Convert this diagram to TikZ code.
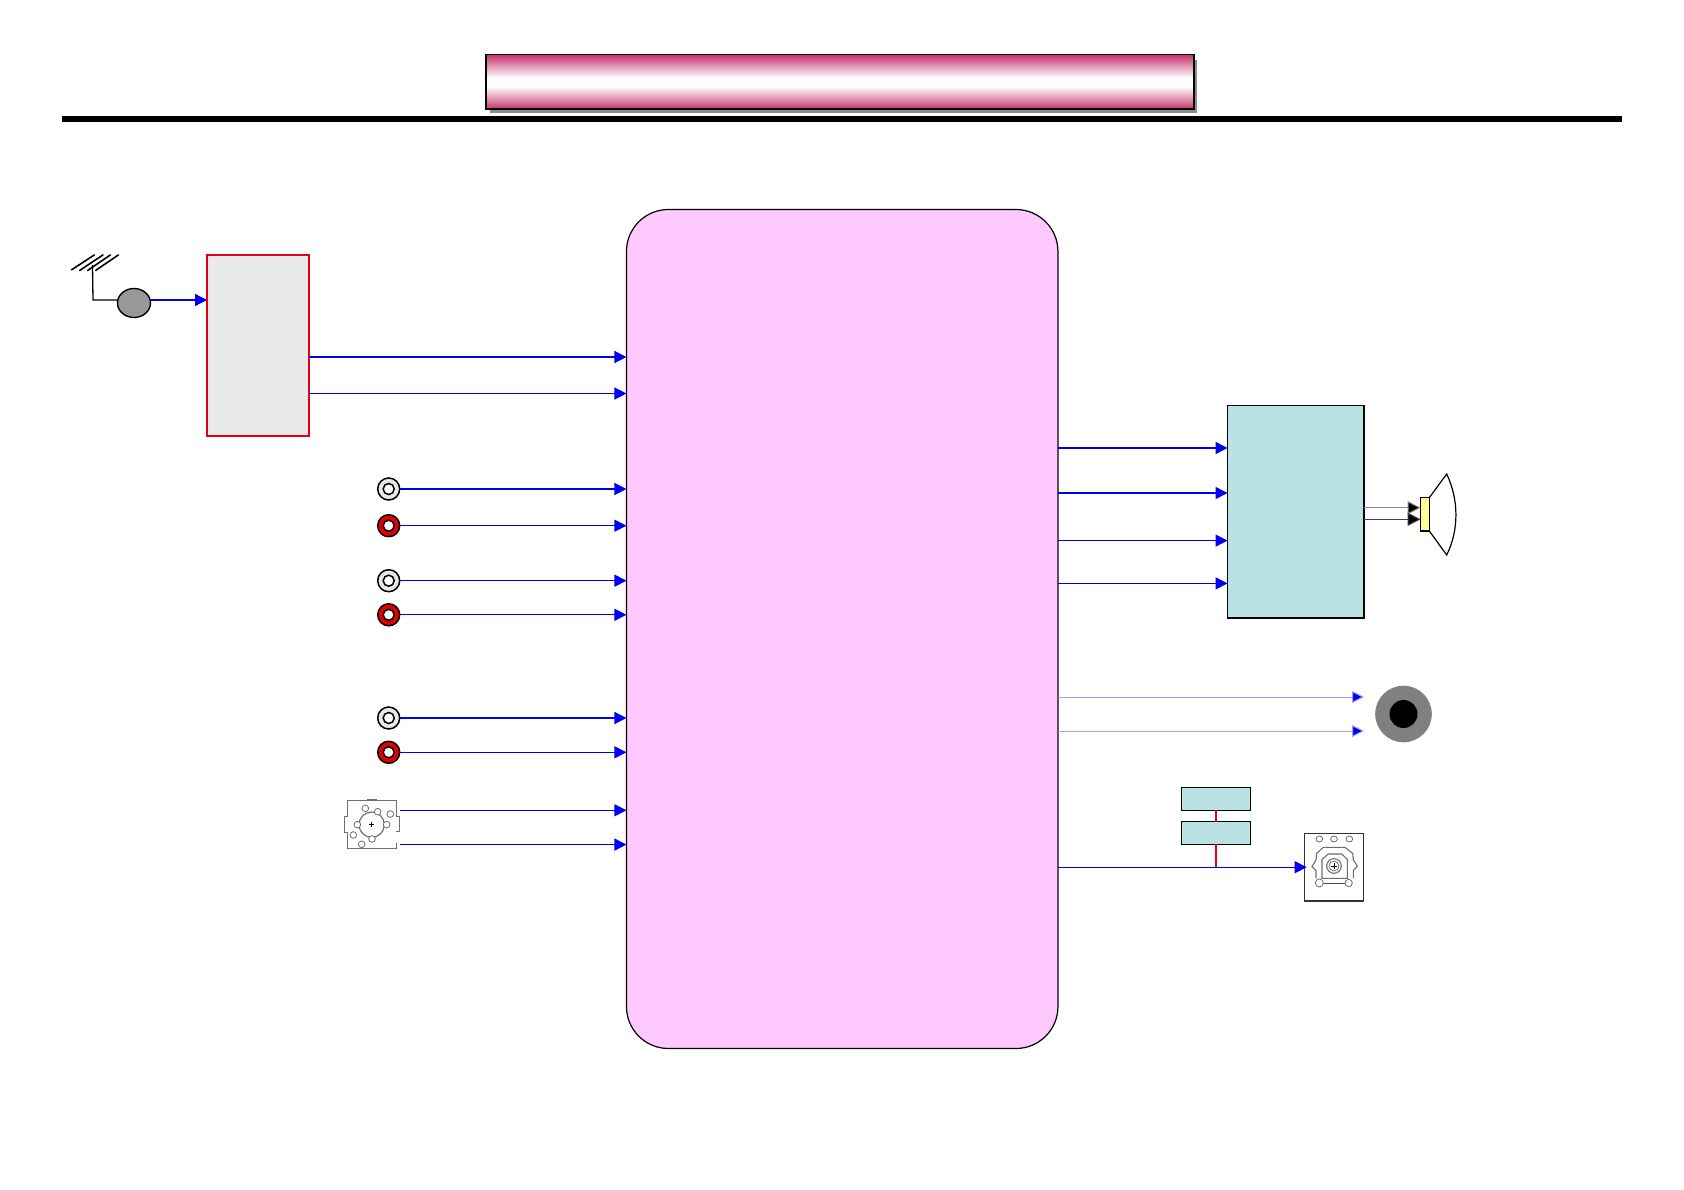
\documentclass[tikz,border=0pt]{standalone}
\usetikzlibrary{arrows.meta,calc,shapes.geometric}
\definecolor{sigblue}{RGB}{0,0,240}
\definecolor{lightsig}{RGB}{160,160,245}
\definecolor{mainpink}{RGB}{255,200,255}
\definecolor{tunergray}{RGB}{234,234,234}
\definecolor{ampteal}{RGB}{186,225,228}
\definecolor{titlepink}{RGB}{200,50,110}
\definecolor{redline}{RGB}{230,0,20}
\definecolor{coilyellow}{RGB}{255,255,153}
\definecolor{icongray}{RGB}{110,110,110}
\pgfdeclareverticalshading{titleshade}{100bp}{color(0bp)=(titlepink); color(25bp)=(titlepink); color(46bp)=(white); color(54bp)=(white); color(75bp)=(titlepink); color(100bp)=(titlepink)}
\tikzset{
  box/.style={draw,rectangle,inner sep=0pt,outer sep=0pt},
  sig/.style={draw=sigblue,line width=1.3pt,-{Triangle[length=12pt,width=12pt,fill=sigblue]}},
  faintsig/.style={draw=lightsig,line width=1pt,-{Triangle[length=12pt,width=12pt,fill=sigblue]}},
  spk/.style={line width=1pt,-{Triangle[length=13pt,width=13pt,fill=black]}},
  jack/.style={draw=black,circle,line width=1.5pt,minimum size=22pt,inner sep=0pt,outer sep=0pt},
  whitejack/.style={jack,fill=black!9},
  redjack/.style={jack,fill=red!90!black},
  hole/.style={draw=black,fill=white,circle,line width=1.5pt,minimum size=11pt,inner sep=0pt},
  red link/.style={draw=redline,line width=1.2pt},
  icon/.style={draw=icongray,line width=.8pt},
}
\begin{document}
\begin{tikzpicture}[x=1pt,y=-1pt]
\useasboundingbox (0,0) rectangle (1684,1190);
% title
\fill[gray!90] (490,60) rectangle (1197,113.5);
\node[box,draw=black,line width=1.5pt,minimum width=708pt,minimum height=54.5pt,
  shading=titleshade] (title) at (840,82) {};
\node[box,fill=black,draw=none,minimum width=1560pt,minimum height=6pt] (rule) at (842,119) {};
% main blocks
\node[box,draw=black,fill=mainpink,line width=1.2pt,rounded corners=42pt,minimum width=431.5pt,minimum height=839pt] (main) at (842.2,629) {};
\node[box,draw=redline,fill=tunergray,line width=2pt,minimum width=102pt,minimum height=181pt] (tuner) at (258,345.3) {};
\node[box,draw=black,fill=ampteal,line width=1.5pt,minimum width=136.5pt,minimum height=212.5pt] (amp) at (1295.8,511.5) {};
% antenna
\node[draw=black,fill=gray!80,ellipse,line width=1.4pt,minimum width=33pt,minimum height=29pt,inner sep=0pt,outer sep=0pt] (ant) at (134,303) {};
\coordinate (antfeed) at (93,300);
\coordinate (anttop) at (92.5,265);
\draw[line width=1.6pt] (71.3,270) -- (94.7,254.7) (79.3,270.7) -- (103.3,254.7) (87.3,270.7) -- (110.7,254.7) (95.3,270.7) -- (118.7,254.7);
\draw[line width=1.3pt] (anttop) -- (antfeed) -- (ant.west |- antfeed);
\coordinate (antout) at (ant.east |- antfeed);
\draw[sig] (antout) -- (tuner.west |- antout);
% tuner outputs
\coordinate (t1) at (tuner.east |- 0,357);
\coordinate (t2) at (tuner.east |- 0,393.5);
\draw[sig] (t1) -- (main.west |- t1);
\draw[sig] (t2) -- (main.west |- t2);
% rca jacks
\foreach \n/\y/\st in {a/489/whitejack,b/525.7/redjack,c/580.7/whitejack,d/614.8/redjack,e/718/whitejack,f/752.3/redjack}{
  \node[\st] (j\n) at (388.7,\y) {};
  \node[hole] at (j\n) {};
  \draw[sig] (j\n.east) -- (main.west |- j\n);
}
% connector icon
\begin{scope}[shift={(330,780)},x=0.3333pt,y=-0.3333pt]
  \draw[icon,line width=1.2pt] (52,110) -- (52,62) -- (199,62) -- (199,110) (52,157) -- (52,205) -- (199,205) -- (199,188);
  \draw[icon,line width=2.5pt] (112,60) -- (140,60);
  \draw[icon] (52,110) -- (42,110) -- (42,157) -- (52,157) (199,110) -- (208,110) -- (208,155) -- (199,155);
  \draw[icon,line width=1.2pt] (125,134) circle[radius=38];
  \foreach \p in {(106,85),(143,95),(181,102),(170,134),(126,177),(82,134),(70,165),(95,193)}
    \draw[icon,fill=white] \p circle[radius=10];
  \draw[line width=.8pt] (117,134) -- (133,134) (125,126) -- (125,142);
\end{scope}
\coordinate (k1) at (400,810.3);
\coordinate (k2) at (400,844.6);
\draw[sig] (k1) -- (main.west |- k1);
\draw[sig] (k2) -- (main.west |- k2);
% amp inputs
\foreach \y in {448,493,540.6,583.4}{
  \coordinate (o) at (main.east |- 0,\y);
  \draw[sig] (o) -- (amp.west |- o);
}
% speaker
\node[box,draw=black,fill=coilyellow,line width=1.5pt,minimum width=8.6pt,minimum height=33.3pt] (coil) at (1425,514.3) {};
\coordinate (s1) at (amp.east |- 0,507.7);
\coordinate (s2) at (amp.east |- 0,519.3);
\draw[spk,draw=black!45] (s1) -- (coil.west |- s1);
\draw[spk,draw=black!75] (s2) -- (coil.west |- s2);
\draw[line width=1.2pt,line join=miter] (coil.north east) -- (1446.7,474) .. controls (1459,500) and (1459,530) .. (1446.7,555) -- (coil.south east);
% headphone jack
\node[circle,fill=black!50,minimum size=56.6pt,inner sep=0pt,outer sep=0pt] (phone) at (1403.5,714) {};
\node[circle,fill=black,minimum size=28pt,inner sep=0pt] at (phone) {};
\coordinate (pl) at (1364,697);
\coordinate (pr) at (1364,731);
\draw[faintsig] (main.east |- pl) -- (pl);
\draw[faintsig] (main.east |- pr) -- (pr);
% spdif
\node[box,draw=black,fill=ampteal,line width=1.5pt,minimum width=68.6pt,minimum height=23pt] (u1) at (1216,798.8) {};
\node[box,draw=black,fill=ampteal,line width=1.5pt,minimum width=68.6pt,minimum height=22.6pt] (u2) at (1216,833) {};
\node[box,draw=black!80,fill=white,line width=1.2pt,minimum width=58.6pt,minimum height=67.7pt] (optic) at (1334,867.2) {};
\coordinate (optin) at (main.east |- optic);
\coordinate (tap) at (u2.south |- optic);
\coordinate (opttip) at ([xshift=2pt]optic.west);
\draw[red link] (u1.south) -- (u2.north);
\draw[red link] (u2.south) -- (tap);
\begin{scope}[shift={(1160,770)},x=0.3333pt,y=-0.3333pt]
  \foreach \xx in {478,522,568} \draw[icon] (\xx,207) ellipse[x radius=10,y radius=9];
  \draw[icon,line width=1.1pt] (468,325) -- (468,302) -- (456,290) -- (468,270) -- (470,250) -- (490,232) -- (555,232) -- (578,250) -- (580,270) -- (592,288) -- (580,302) -- (580,325);
  \draw[icon,line width=1.1pt] (486,325) -- (486,268) -- (505,252) -- (545,252) -- (562,268) -- (562,325) -- cycle;
  \draw[line width=1pt,black!70] (490,342) -- (555,342);
  \draw[icon,line width=1.1pt] (522,288) circle[radius=22];
  \draw[icon] (522,288) circle[radius=15];
  \draw[line width=.8pt] (514,288) -- (530,288) (522,280) -- (522,296);
  \draw[icon,fill=white] (478,339) circle[radius=12];
  \draw[icon,fill=white] (566,339) circle[radius=11];
\end{scope}
\draw[sig] (optin) -- (opttip);
\end{tikzpicture}
\end{document}
